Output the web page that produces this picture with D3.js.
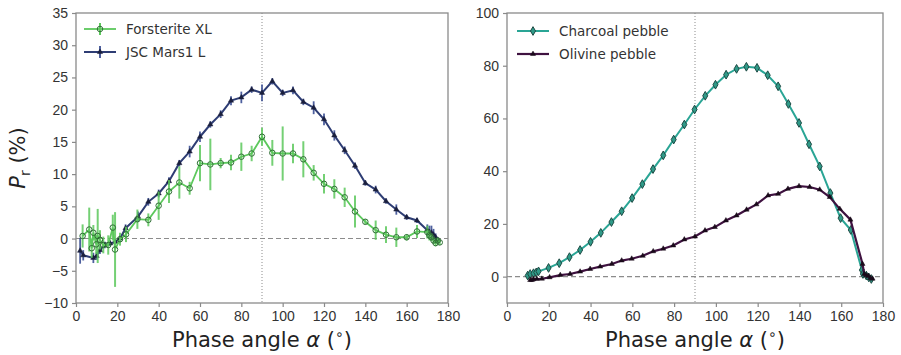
<!DOCTYPE html>
<html>
<head>
    <title>Polarization phase curves</title>
    <script src="https://cdnjs.cloudflare.com/ajax/libs/d3/7.8.5/d3.min.js"></script>
    <style>
        body {
            margin: 0;
            background: #fff;
            font-family: "DejaVu Sans", sans-serif;
        }
        .tick text {
            font-size: 14px;
            fill: #333;
        }
        .axis-label {
            font-size: 21px;
            fill: #222;
        }
        .legend-text {
            font-size: 13.5px;
            fill: #333;
        }
    </style>
</head>
<body>
    <div id="chart"></div>

    <script>
        // Left panel: Forsterite XL (phase angle, Pr %, error)
        const alphaFo = [3.2, 6.4, 7.6, 8.4, 9.8, 10.5, 11.6, 13.2, 15.6, 17.8, 18.9, 21.3, 24.2, 29.7, 35, 40, 45, 50, 55, 60, 65, 70, 75, 80, 85, 90, 95, 100, 105, 110, 115, 120, 125, 130, 135, 140, 145, 150, 155, 160, 165, 170, 171, 172, 173, 174, 175, 176];
        const polFo = [0.4, 1.4, -1.5, 0.9, -0.9, 0.4, -0.2, -1.0, -1.0, 1.7, -1.7, -0.1, 0.65, 3.0, 2.9, 5.1, 7.3, 8.7, 7.8, 11.7, 11.5, 11.7, 11.8, 12.7, 13.2, 15.8, 13.3, 13.2, 13.2, 12.3, 10.2, 8.5, 7.7, 6.4, 4.2, 2.6, 1.3, 0.6, 0.2, 0.2, 1.1, 1.0, 0.5, 0.2, -0.3, -0.7, -0.3, -0.6];
        const errFo = [1.8, 3.4, 1.5, 1.2, 1.5, 4.2, 1.5, 1.3, 1.5, 2.0, 5.8, 1.0, 1.2, 1.5, 1.0, 2.2, 1.8, 2.5, 1.0, 2.8, 4.0, 0.8, 1.2, 2.2, 1.2, 1.4, 2.0, 4.2, 1.5, 2.8, 1.2, 1.5, 1.5, 1.5, 2.5, 0.4, 1.5, 1.3, 1.5, 0.5, 1.0, 1.0, 0.8, 0.6, 0.5, 0.5, 0.4, 0.4];

        // Left panel: JSC Mars1 L
        const alphaJsc = [2, 3.5, 8.4, 10, 11.6, 14, 16.5, 19, 21.3, 24, 30, 35, 40, 45, 50, 55, 60, 65, 70, 75, 80, 85, 90, 95, 100, 105, 110, 115, 120, 125, 130, 135, 140, 145, 150, 155, 160, 165, 170, 171, 172, 173, 174, 175];
        const polJsc = [-1.9, -2.6, -3.0, -2.7, -1.8, -1.0, -0.75, -0.5, 0, 1.6, 3.4, 5.7, 7.0, 8.9, 11.7, 13.5, 15.8, 17.7, 19.3, 21.4, 21.9, 23.1, 22.6, 24.4, 22.6, 23.0, 21.2, 20.3, 18.5, 16.0, 13.7, 11.3, 8.6, 7.6, 5.8, 4.5, 3.3, 2.8, 1.3, 1.0, 0.9, 0.6, 0.2, -0.2];
        const errJsc = [2.0, 0.8, 0.8, 0.6, 0.6, 0.5, 0.4, 0.4, 0.5, 0.6, 0.8, 0.6, 0.6, 0.6, 0.5, 0.9, 0.8, 0.5, 0.6, 0.7, 0.9, 0.5, 1.3, 0.5, 0.5, 0.6, 0.5, 1.0, 0.9, 0.8, 0.6, 0.5, 0.4, 0.6, 0.4, 0.8, 0.4, 0.4, 0.9, 1.0, 1.1, 0.9, 0.6, 0.4];

        // Right panel: Charcoal pebble
        const alphaChar = [9.9, 11.1, 12.7, 14, 15.1, 19.9, 25, 29.9, 35, 40, 44.9, 50, 54.9, 59.9, 64.8, 69.9, 74.8, 79.8, 84.9, 89.8, 94.9, 99.8, 104.9, 109.9, 114.6, 119.7, 124.8, 129.8, 134.7, 139.8, 144.6, 149.7, 154.8, 159.7, 164.6, 169.9, 170.4, 172, 173.2, 174.4];
        const polChar = [0.4, 1.0, 1.3, 1.6, 2.0, 3.3, 5.1, 7.4, 10.1, 13.2, 16.6, 20.7, 24.8, 29.8, 35.1, 40.8, 46.0, 52.0, 57.7, 63.4, 68.6, 72.8, 76.6, 78.8, 79.6, 79.2, 76.4, 72.2, 65.5, 58.3, 50.2, 41.8, 31.7, 22.2, 17.7, 2.5, 1.0, 0.4, -0.3, -0.9];

        // Right panel: Olivine pebble
        const alphaOl = [11.1, 11.9, 12.7, 14.3, 16.7, 20.4, 25.5, 30.2, 35, 39.8, 44.6, 50.2, 54.9, 59.7, 65, 70, 74.8, 79.6, 84.9, 90, 94.8, 99.5, 104.8, 109.9, 114.7, 119.4, 125, 129.8, 134.5, 139.8, 144.9, 149.7, 154.5, 159.3, 164.4, 170.2, 171, 172, 173, 174, 175];
        const polOl = [-1.3, -1.3, -1.0, -0.9, -0.8, -0.25, 0.6, 1.0, 1.9, 2.9, 3.8, 4.8, 6.1, 6.8, 7.9, 9.6, 10.6, 11.8, 14.1, 15.2, 17.5, 18.8, 21.3, 23.2, 25.4, 27.4, 30.8, 31.4, 33.3, 34.3, 34.0, 33.0, 30.2, 25.7, 21.6, 4.8, 1.0, 0.5, 0.2, -0.5, -0.8];

        const xTicks = [0, 20, 40, 60, 80, 100, 120, 140, 160, 180];

        const W = 901, H = 355;
        const svg = d3.select('#chart').append('svg')
            .attr('width', W)
            .attr('height', H);

        const spineColor = '#8a8a8a';

        function makePanel(opts) {
            const g = svg.append('g');
            const x = d3.scaleLinear().domain([0, 180]).range([opts.left, opts.right]);
            const y = d3.scaleLinear().domain(opts.yDomain).range([opts.bottom, opts.top]);

            // reference lines
            g.append('line')
                .attr('x1', opts.left).attr('x2', opts.right)
                .attr('y1', y(0)).attr('y2', y(0))
                .attr('stroke', '#8c8c8c').attr('stroke-width', 1.1)
                .attr('stroke-dasharray', '5,3');
            g.append('line')
                .attr('x1', x(90)).attr('x2', x(90))
                .attr('y1', opts.top).attr('y2', opts.bottom)
                .attr('stroke', '#8c8c8c').attr('stroke-width', 1)
                .attr('stroke-dasharray', '1,2');

            // axes
            const xAxis = g.append('g')
                .attr('transform', `translate(0,${opts.bottom})`)
                .call(d3.axisBottom(x).tickValues(xTicks).tickSize(4).tickPadding(4));
            const yAxis = g.append('g')
                .attr('transform', `translate(${opts.left},0)`)
                .call(d3.axisLeft(y).tickValues(opts.yTicks).tickSize(4).tickPadding(4)
                    .tickFormat(d => d < 0 ? '\u2212' + Math.abs(d) : d));
            [xAxis, yAxis].forEach(a => {
                a.select('.domain').remove();
                a.selectAll('.tick line').attr('stroke', spineColor).attr('stroke-width', 1.2);
            });

            // frame
            g.append('rect')
                .attr('x', opts.left).attr('y', opts.top)
                .attr('width', opts.right - opts.left)
                .attr('height', opts.bottom - opts.top)
                .attr('fill', 'none')
                .attr('stroke', spineColor)
                .attr('stroke-width', 1.3);

            // x label
            g.append('text')
                .attr('class', 'axis-label')
                .attr('x', (opts.left + opts.right) / 2)
                .attr('y', 347)
                .attr('text-anchor', 'middle')
                .html('Phase angle <tspan font-style="italic">\u03b1</tspan> (<tspan font-size="14" dy="-8">\u2218</tspan><tspan dy="8">)</tspan>');

            return { g, x, y };
        }

        const left = makePanel({ left: 76, right: 448, top: 13, bottom: 303, yDomain: [-10, 35], yTicks: [-10, -5, 0, 5, 10, 15, 20, 25, 30, 35] });
        const right = makePanel({ left: 507, right: 883, top: 13, bottom: 303, yDomain: [-10, 100], yTicks: [0, 20, 40, 60, 80, 100] });

        // y label on left panel
        left.g.append('text')
            .attr('class', 'axis-label')
            .attr('transform', 'translate(25,158) rotate(-90)')
            .attr('text-anchor', 'middle')
            .html('<tspan font-style="italic">P</tspan><tspan font-size="14" dy="5">r</tspan><tspan dy="-5"> (%)</tspan>');

        // series drawing helpers
        function zip(xs, ys, es) {
            return xs.map((a, i) => ({ a, p: ys[i], e: es ? es[i] : 0 }));
        }

        function drawSeries(panel, data, s) {
            const { g, x, y } = panel;
            if (s.err) {
                g.append('g').selectAll('line')
                    .data(data).enter().append('line')
                    .attr('x1', d => x(d.a)).attr('x2', d => x(d.a))
                    .attr('y1', d => y(d.p - d.e)).attr('y2', d => y(d.p + d.e))
                    .attr('stroke', s.errColor).attr('stroke-width', s.errWidth)
                    .attr('stroke-opacity', s.errOpacity);
            }
            g.append('path')
                .datum(data)
                .attr('fill', 'none')
                .attr('stroke', s.color)
                .attr('stroke-width', s.width)
                .attr('d', d3.line().x(d => x(d.a)).y(d => y(d.p)));
            g.append('g').selectAll('path')
                .data(data).enter().append('path')
                .attr('transform', d => `translate(${x(d.a)},${y(d.p)})`)
                .attr('d', d3.symbol().type(s.symbol).size(s.size))
                .attr('fill', s.fill)
                .attr('stroke', s.edge)
                .attr('stroke-width', s.edgeWidth);
        }

        const styles = {
            fo: { color: '#5cc85c', width: 1.8, err: true, errColor: '#5cc85c', errWidth: 2, errOpacity: 0.85, symbol: d3.symbolCircle, size: 24, fill: 'none', edge: '#2f6f35', edgeWidth: 1 },
            jsc: { color: '#2e3d74', width: 2, err: true, errColor: '#3b4f94', errWidth: 1.8, errOpacity: 0.9, symbol: d3.symbolTriangle, size: 12, fill: '#1a1f3d', edge: '#1a1f3d', edgeWidth: 0.5 },
            ch: { color: '#2aa595', width: 2, err: false, symbol: d3.symbolDiamond, size: 22, fill: '#2f9a88', edge: '#1e4a44', edgeWidth: 1 },
            ol: { color: '#3f1240', width: 2.2, err: false, symbol: d3.symbolTriangle, size: 11, fill: '#1a0a1a', edge: '#1a0a1a', edgeWidth: 0.5 }
        };

        drawSeries(left, zip(alphaJsc, polJsc, errJsc), styles.jsc);
        drawSeries(left, zip(alphaFo, polFo, errFo), styles.fo);
        drawSeries(right, zip(alphaChar, polChar), styles.ch);
        drawSeries(right, zip(alphaOl, polOl), styles.ol);

        // legends
        function legend(g, x0, y0, items) {
            items.forEach((it, i) => {
                const yy = y0 + i * 23;
                const s = it.style;
                g.append('line')
                    .attr('x1', x0).attr('x2', x0 + 32)
                    .attr('y1', yy).attr('y2', yy)
                    .attr('stroke', s.color).attr('stroke-width', s.width);
                if (s.err) {
                    g.append('line')
                        .attr('x1', x0 + 16).attr('x2', x0 + 16)
                        .attr('y1', yy - 6).attr('y2', yy + 6)
                        .attr('stroke', s.errColor).attr('stroke-width', s.errWidth);
                }
                g.append('path')
                    .attr('transform', `translate(${x0 + 16},${yy})`)
                    .attr('d', d3.symbol().type(s.symbol).size(s.size))
                    .attr('fill', s.fill).attr('stroke', s.edge).attr('stroke-width', s.edgeWidth);
                g.append('text')
                    .attr('class', 'legend-text')
                    .attr('x', x0 + 42).attr('y', yy + 5)
                    .text(it.label);
            });
        }

        legend(left.g, 84, 29, [
            { label: 'Forsterite XL', style: styles.fo },
            { label: 'JSC Mars1 L', style: styles.jsc }
        ]);
        legend(right.g, 517, 31, [
            { label: 'Charcoal pebble', style: styles.ch },
            { label: 'Olivine pebble', style: styles.ol }
        ]);
    </script>
</body>
</html>
